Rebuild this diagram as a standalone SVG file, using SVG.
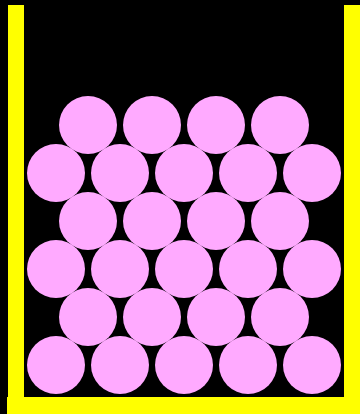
<svg xmlns="http://www.w3.org/2000/svg" width="360" height="414" viewBox="0 0 360 414">
<style>
.wall{fill:#FFFF00}
.ball{fill:#FFAAFF}
</style>
<rect x="0" y="0" width="360" height="414" fill="#000000"/>
<g id="container">
<rect class="wall" x="8" y="5" width="16" height="409"/>
<rect class="wall" x="344" y="5" width="16" height="409"/>
<rect class="wall" x="7" y="397" width="353" height="17"/>
</g>
<g id="balls">
<circle class="ball" cx="56" cy="365" r="29"/>
<circle class="ball" cx="120" cy="365" r="29"/>
<circle class="ball" cx="184" cy="365" r="29"/>
<circle class="ball" cx="248" cy="365" r="29"/>
<circle class="ball" cx="312" cy="365" r="29"/>
<circle class="ball" cx="88" cy="317" r="29"/>
<circle class="ball" cx="152" cy="317" r="29"/>
<circle class="ball" cx="216" cy="317" r="29"/>
<circle class="ball" cx="280" cy="317" r="29"/>
<circle class="ball" cx="56" cy="269" r="29"/>
<circle class="ball" cx="120" cy="269" r="29"/>
<circle class="ball" cx="184" cy="269" r="29"/>
<circle class="ball" cx="248" cy="269" r="29"/>
<circle class="ball" cx="312" cy="269" r="29"/>
<circle class="ball" cx="88" cy="221" r="29"/>
<circle class="ball" cx="152" cy="221" r="29"/>
<circle class="ball" cx="216" cy="221" r="29"/>
<circle class="ball" cx="280" cy="221" r="29"/>
<circle class="ball" cx="56" cy="173" r="29"/>
<circle class="ball" cx="120" cy="173" r="29"/>
<circle class="ball" cx="184" cy="173" r="29"/>
<circle class="ball" cx="248" cy="173" r="29"/>
<circle class="ball" cx="312" cy="173" r="29"/>
<circle class="ball" cx="88" cy="125" r="29"/>
<circle class="ball" cx="152" cy="125" r="29"/>
<circle class="ball" cx="216" cy="125" r="29"/>
<circle class="ball" cx="280" cy="125" r="29"/>
</g>
</svg>
